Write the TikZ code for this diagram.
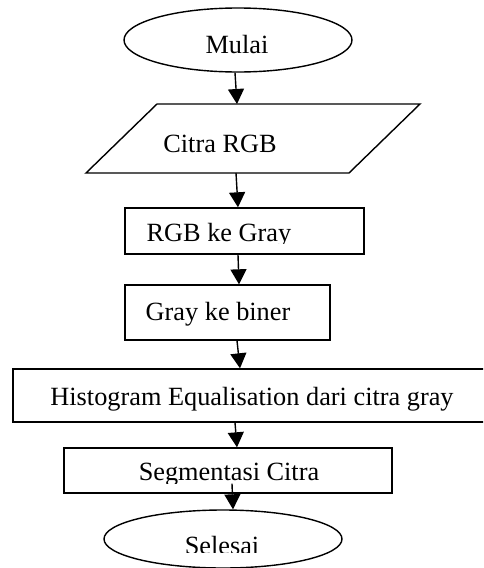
\documentclass[tikz,border=0pt]{standalone}
\usepackage{fontspec}
\setmainfont{Liberation Serif}
\usetikzlibrary{shapes.geometric,arrows.meta}
\begin{document}
\begin{tikzpicture}[x=1pt,y=-1pt,
  line width=1.4pt,
  procbox/.style={draw, rectangle, inner sep=0pt},
  termnode/.style={draw, ellipse, inner sep=0pt},
  lbl/.style={anchor=base, inner sep=0pt, font=\fontsize{26.3}{31}\selectfont},
  flow/.style={-{Triangle[width=16pt,length=15pt]}}]
\useasboundingbox (0,0) rectangle (483,568);
\begin{scope}
\clip (0,0) rectangle (483,568);
% shapes
\node[termnode, minimum width=228pt, minimum height=64pt] (mulai) at (238,40) {};
\draw (86,173) -- (157,104) -- (420,104) -- (349,173) -- cycle;
\coordinate (citraN) at (237,104);
\coordinate (citraS) at (236,173);
\node[procbox, minimum width=239pt, minimum height=46pt] (rgb) at (244.5,231) {};
\node[procbox, minimum width=205pt, minimum height=55pt] (gray) at (227.5,312.5) {};
\node[procbox, minimum width=473pt, minimum height=53pt] (histo) at (249.5,395.5) {};
\node[procbox, minimum width=328pt, minimum height=45pt] (segm) at (228,470.5) {};
\node[termnode, minimum width=238pt, minimum height=58pt] (selesai) at (223,539) {};
% labels
\node[lbl] (tmulai) at (237,53) {Mulai};
\node[lbl] (tcitra) at (220,152) {Citra RGB};
\begin{scope}
\clip (0,0) rectangle (483,243.5);
\node[lbl] (trgb) at (219,241.5) {RGB ke Gray};
\end{scope}
\node[lbl] (tgray) at (218,320) {Gray ke biner};
\node[lbl] (thisto) at (252,405) {Histogram Equalisation dari citra gray};
\begin{scope}
\clip (0,0) rectangle (483,483);
\node[lbl] (tsegm) at (229,480) {Segmentasi Citra};
\end{scope}
\begin{scope}
\clip (0,0) rectangle (483,552.5);
\node[lbl] (tselesai) at (222,554) {Selesai};
\end{scope}
% connectors
\draw[flow] ([xshift=-3pt]mulai.south) -- (citraN);
\draw[flow] (citraS) -- ([xshift=-6.5pt]rgb.north);
\draw[flow] ([xshift=-6.5pt]rgb.south) -- ([xshift=11.5pt]gray.north);
\draw[flow] ([xshift=9.5pt]gray.south) -- ([xshift=-9.5pt]histo.north);
\draw[flow] ([xshift=-14.5pt]histo.south) -- ([xshift=9pt]segm.north);
\draw[flow] ([xshift=4pt,yshift=10pt]segm.south) -- ([xshift=10pt]selesai.north);
\end{scope}
\end{tikzpicture}
\end{document}
